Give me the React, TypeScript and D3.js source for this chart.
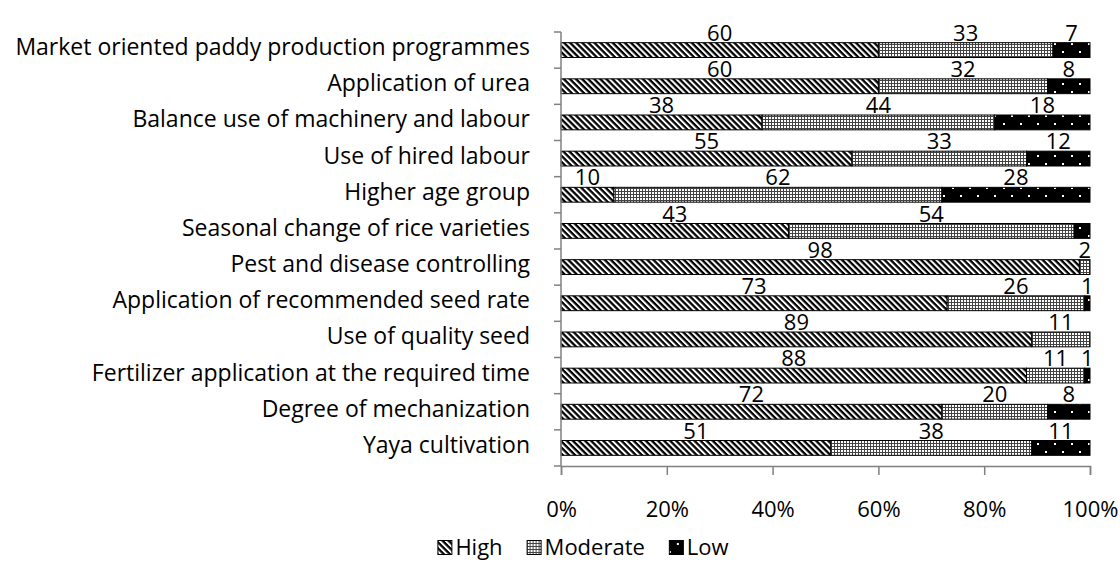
import React, { useEffect, useRef } from "react";
import * as d3 from "d3";

const categories = [
  "Market oriented paddy production programmes",
  "Application of urea",
  "Balance use of machinery and labour",
  "Use of hired labour",
  "Higher age group",
  "Seasonal change of rice varieties",
  "Pest and disease controlling",
  "Application of recommended seed rate",
  "Use of quality seed",
  "Fertilizer application at the required time",
  "Degree of mechanization",
  "Yaya cultivation",
];

const high = [60, 60, 38, 55, 10, 43, 98, 73, 89, 88, 72, 51];
const moderate = [33, 32, 44, 33, 62, 54, 2, 26, 11, 11, 20, 38];
const low = [7, 8, 18, 12, 28, 3, 0, 1, 0, 1, 8, 11];

// labels that are not printed in the original
const hiddenLow = ["Seasonal change of rice varieties"];

const seriesNames = ["High", "Moderate", "Low"];
const tickValues = [0, 0.2, 0.4, 0.6, 0.8, 1];

const FONT = "'Open Sans', sans-serif";

const App = () => {
  const svgRef = useRef<SVGSVGElement>(null);

  useEffect(() => {
    const svg = d3.select(svgRef.current);
    svg.selectAll("*").remove();

    const margin = { top: 32, left: 561, right: 30, bottom: 101 };
    const W = 1120;
    const H = 567;
    const width = W - margin.left - margin.right;
    const height = H - margin.top - margin.bottom;

    // patterns
    const defs = svg.append("defs");
    const pHigh = defs
      .append("pattern")
      .attr("id", "pHigh")
      .attr("patternUnits", "userSpaceOnUse")
      .attr("width", 4.3)
      .attr("height", 10)
      .attr("patternTransform", "rotate(-45)");
    pHigh.append("rect").attr("width", 4.3).attr("height", 10).attr("fill", "#000");
    pHigh.append("rect").attr("width", 2).attr("height", 10).attr("fill", "#fff");

    const pMod = defs
      .append("pattern")
      .attr("id", "pMod")
      .attr("patternUnits", "userSpaceOnUse")
      .attr("width", 3)
      .attr("height", 3);
    pMod.append("rect").attr("width", 3).attr("height", 3).attr("fill", "#fff");
    pMod.append("rect").attr("width", 3).attr("height", 1).attr("fill", "#444");
    pMod.append("rect").attr("width", 1).attr("height", 3).attr("fill", "#444");

    const pLow = defs
      .append("pattern")
      .attr("id", "pLow")
      .attr("patternUnits", "userSpaceOnUse")
      .attr("width", 17)
      .attr("height", 16);
    pLow.append("rect").attr("width", 17).attr("height", 16).attr("fill", "#000");
    pLow.append("rect").attr("x", 8).attr("y", 3).attr("width", 2).attr("height", 2).attr("fill", "#fff");
    pLow.append("rect").attr("x", 0).attr("y", 11).attr("width", 2).attr("height", 2).attr("fill", "#fff");

    const fills = ["url(#pHigh)", "url(#pMod)", "url(#pLow)"];

    const g = svg
      .append("g")
      .attr("transform", `translate(${margin.left},${margin.top})`);

    const x = d3.scaleLinear().domain([0, 1]).range([0, width]);
    const y = d3.scaleBand().domain(categories).range([0, height]).paddingInner(0.59).paddingOuter(0.295);
    const yOuter = d3.scaleBand().domain(categories).range([0, height]);

    const rows = categories.map((c, i) => ({
      cat: c,
      values: [high[i], moderate[i], low[i]],
    }));
    const stacked = rows.map((r) => {
      const total = d3.sum(r.values);
      let acc = 0;
      return r.values.map((v, k) => {
        const s = { cat: r.cat, k, v, x0: acc / total, x1: (acc + v) / total };
        acc += v;
        return s;
      });
    });

    // bars
    stacked.forEach((segs) => {
      segs.forEach((s) => {
        if (s.v <= 0) return;
        g.append("rect")
          .attr("x", x(s.x0))
          .attr("y", y(s.cat)!)
          .attr("width", x(s.x1) - x(s.x0))
          .attr("height", y.bandwidth())
          .attr("fill", fills[s.k])
          .attr("stroke", "#000")
          .attr("stroke-width", 1);
      });
    });

    // value labels
    stacked.forEach((segs) => {
      segs.forEach((s) => {
        if (s.v <= 0) return;
        if (s.k === 2 && hiddenLow.includes(s.cat)) return;
        g.append("text")
          .attr("x", x((s.x0 + s.x1) / 2))
          .attr("y", y(s.cat)! - 2)
          .attr("text-anchor", "middle")
          .style("font-family", FONT)
          .style("font-size", "22px")
          .attr("fill", "#000")
          .text(s.v);
      });
    });

    // y axis
    const axisColor = "#808080";
    g.append("line")
      .attr("x1", 0)
      .attr("x2", 0)
      .attr("y1", 0)
      .attr("y2", height)
      .attr("stroke", axisColor)
      .attr("stroke-width", 1.5);
    const yTicks = [...categories.map((c) => yOuter(c)!), height];
    g.selectAll(".ytick")
      .data(yTicks)
      .enter()
      .append("line")
      .attr("x1", -7)
      .attr("x2", 0)
      .attr("y1", (d) => d)
      .attr("y2", (d) => d)
      .attr("stroke", axisColor)
      .attr("stroke-width", 1.5);

    g.selectAll(".ylab")
      .data(categories)
      .enter()
      .append("text")
      .attr("x", -31)
      .attr("y", (d) => yOuter(d)! + yOuter.bandwidth() / 2 + 5)
      .attr("text-anchor", "end")
      .style("font-family", FONT)
      .style("font-size", "23px")
      .attr("fill", "#000")
      .text((d) => d);

    // x axis
    const xAxis = g
      .append("g")
      .attr("transform", `translate(0,${height})`)
      .call(d3.axisBottom(x).tickValues(tickValues).tickSizeOuter(0).tickSize(9).tickFormat(d3.format(".0%")));
    xAxis.select(".domain").attr("stroke", axisColor).attr("stroke-width", 1.5);
    xAxis.selectAll(".tick line").attr("stroke", axisColor).attr("stroke-width", 1.5);
    xAxis
      .selectAll(".tick text")
      .attr("y", 35)
      .attr("dy", "0.71em")
      .style("font-family", FONT)
      .style("font-size", "22px")
      .attr("fill", "#000");

    // legend
    const legendY = 540;
    const legend = svg.append("g");
    let lx = 0;
    seriesNames.forEach((name, i) => {
      const it = legend.append("g").attr("transform", `translate(${lx},0)`);
      it.append("rect")
        .attr("x", 0.5)
        .attr("y", 0.5)
        .attr("width", 14)
        .attr("height", 14)
        .attr("fill", fills[i])
        .attr("stroke", "#000");
      const t = it
        .append("text")
        .attr("x", 18)
        .attr("y", 15)
        .style("font-family", FONT)
        .style("font-size", "22px")
        .attr("fill", "#000")
        .text(name);
      const tw = (t.node() as SVGTextElement).getComputedTextLength();
      lx += 18 + tw + 24;
    });
    const totalW = lx - 24;
    legend.attr("transform", `translate(${583 - totalW / 2},${legendY})`);
  }, []);

  return (
    <svg
      ref={svgRef}
      width={1120}
      height={567}
      style={{ position: "absolute", left: 0, top: 0, background: "#fff" }}
    />
  );
};

export default App;
